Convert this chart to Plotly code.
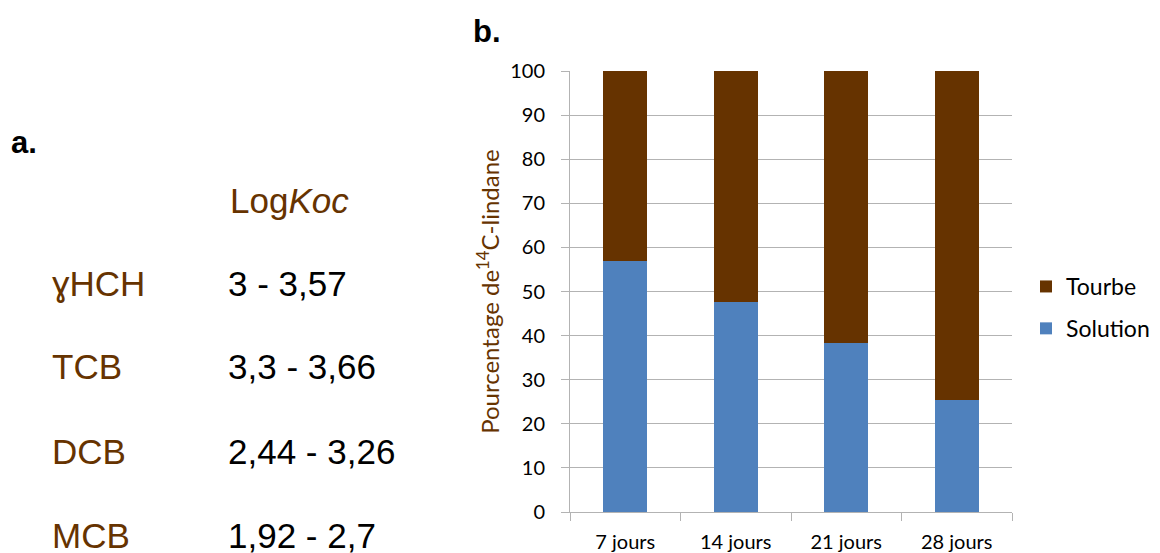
import plotly.graph_objects as go

# panel b data
DAYS = ["7 jours", "14 jours", "21 jours", "28 jours"]
SOLUTION = [57.0, 47.6, 38.3, 25.3]
TOURBE = [43.0, 52.4, 61.7, 74.7]

# panel a table
COMPOUNDS = ["ɣHCH", "TCB", "DCB", "MCB"]
LOG_KOC = ["3 - 3,57", "3,3 - 3,66", "2,44 - 3,26", "1,92 - 2,7"]

BROWN = "#663300"
BLUE = "#4F81BD"
GRID = "#B3B3B3"

W, H = 1160, 553
L, R, T, B = 570, 1012, 71, 512  # plot area in pixels


def px_x(px):
    return (px - L) / (R - L)


def px_y(py):
    return (B - py) / (B - T)


fig = go.Figure()

fig.add_trace(
    go.Bar(
        x=DAYS,
        y=SOLUTION,
        name="Solution",
        legendgroup="s",
        legendrank=2,
        marker=dict(color=BLUE, line_width=0),
    )
)
fig.add_trace(
    go.Bar(
        x=DAYS,
        y=TOURBE,
        name="Tourbe",
        legendgroup="t",
        legendrank=1,
        marker=dict(color=BROWN, line_width=0),
    )
)

arial = "Liberation Sans, Arial, sans-serif"
annotations = [
    dict(text="<b>a.</b>", x=px_x(9), y=px_y(142), font=dict(size=31, color="black", family=arial)),
    dict(text="<b>b.</b>", x=px_x(471), y=px_y(32), font=dict(size=31, color="black", family=arial)),
    dict(text="Log<i>Koc</i>", x=px_x(228), y=px_y(200), font=dict(size=35, color=BROWN, family=arial)),
]
for i, (name, val) in enumerate(zip(COMPOUNDS, LOG_KOC)):
    yc = 283 + 84 * i
    annotations.append(
        dict(text=name, x=px_x(50), y=px_y(yc), font=dict(size=35, color=BROWN, family=arial))
    )
    annotations.append(
        dict(text=val, x=px_x(226), y=px_y(yc), font=dict(size=35, color="black", family=arial))
    )
for a in annotations:
    a.update(xref="paper", yref="paper", xanchor="left", yanchor="middle", showarrow=False)

fig.update_layout(
    width=W,
    height=H,
    barmode="stack",
    bargap=0.6,
    paper_bgcolor="white",
    plot_bgcolor="white",
    font=dict(family="Lato, sans-serif", size=20, color="black"),
    margin=dict(l=L, r=W - R, t=T, b=H - B, autoexpand=False),
    annotations=annotations,
    legend=dict(
        x=px_x(1026),
        y=px_y(265),
        xanchor="left",
        yanchor="top",
        traceorder="grouped",
        tracegroupgap=9,
        font=dict(size=23, family="Lato, sans-serif"),
        bgcolor="rgba(0,0,0,0)",
    ),
    xaxis=dict(
        showline=True,
        linecolor=GRID,
        linewidth=1,
        ticks="outside",
        tickson="boundaries",
        ticklen=8,
        tickcolor=GRID,
        ticklabelstandoff=12,
        showgrid=False,
        fixedrange=True,
    ),
    yaxis=dict(
        range=[0, 100],
        dtick=10,
        showline=True,
        linecolor=GRID,
        linewidth=1,
        ticks="outside",
        ticklen=8,
        tickcolor=GRID,
        ticklabelstandoff=12,
        showgrid=True,
        gridcolor=GRID,
        zeroline=False,
        title=dict(
            text="Pourcentage de<sup>14</sup>C-lindane",
            font=dict(size=24, color=BROWN, family="Lato, sans-serif"),
            standoff=3,
        ),
        fixedrange=True,
    ),
)

fig.write_html(
    "out.html",
    config={"displayModeBar": False},
    post_script="document.body.style.margin='0';",
)
